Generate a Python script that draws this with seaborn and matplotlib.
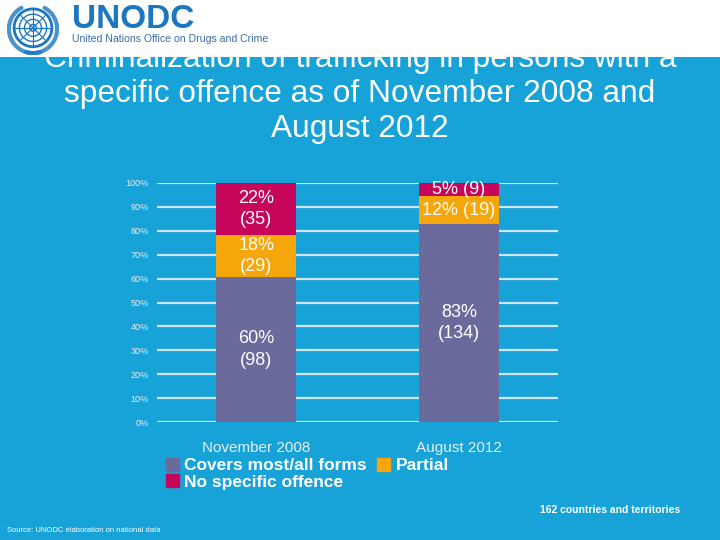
import numpy as np
import pandas as pd
import matplotlib
matplotlib.use("Agg")
import matplotlib.pyplot as plt
from matplotlib.patches import Rectangle, Patch, Circle
import seaborn as sns

# --- data
periods = ["November 2008", "August 2012"]
covers_n = [98, 134]
partial_n = [29, 19]
none_n = [35, 9]
covers_pct = [60, 83]
partial_pct = [18, 12]
none_pct = [22, 5]
total_n = 162
y_ticks = [0, 10, 20, 30, 40, 50, 60, 70, 80, 90, 100]

BG = "#17a3d7"
C_COVERS = "#6b6a9d"
C_PARTIAL = "#f5a60a"
C_NONE = "#c5065a"
LOGO = "#1b77c0"

sns.set_theme(style="white")
plt.rcParams["font.family"] = ["Liberation Sans", "DejaVu Sans"]

df = pd.DataFrame({
    "period": periods,
    "covers": np.array(covers_n) / total_n * 100,
    "partial": np.array(partial_n) / total_n * 100,
    "none": np.array(none_n) / total_n * 100,
})
df["lvl2"] = df["covers"] + df["partial"]
df["lvl3"] = df["lvl2"] + df["none"]

fig = plt.figure(figsize=(7.2, 5.4), dpi=100, facecolor=BG)

# --- title (first line sits partly under the white header band)
title_lines = ["Criminalization of trafficking in persons with a",
               "specific offence as of November 2008 and",
               "August 2012"]
for i, line in enumerate(title_lines):
    fig.text(0.5, 1 - (59 + 35 * i) / 540, line, ha="center", va="center",
             color="white", fontsize=22.8, zorder=1)

# white header band with logo
fig.patches.append(Rectangle((0, 1 - 57 / 540), 1, 57 / 540, transform=fig.transFigure,
                             facecolor="white", edgecolor="none", zorder=2))
lax = fig.add_axes([5 / 720, 1 - 55 / 540, 56 / 720, 52 / 540], zorder=3)
lax.set_xlim(-1.1, 1.1)
lax.set_ylim(-1.1, 1.1)
lax.set_aspect("equal")
lax.axis("off")
for r, lw in [(1.0, 2.0), (0.72, 1.0), (0.45, 1.0), (0.18, 1.0)]:
    lax.add_patch(Circle((0, 0.05), r * 0.8, fill=False, ec=LOGO, lw=lw))
for a in np.linspace(0, np.pi, 5):
    lax.plot([0.8 * np.cos(a), -0.8 * np.cos(a)], [0.05 + 0.8 * np.sin(a), 0.05 - 0.8 * np.sin(a)],
             color=LOGO, lw=0.8)
for s in (-1, 1):
    t = np.linspace(-np.pi / 2 - 0.3, np.pi / 2 - 0.5, 30)
    lax.plot(s * 1.02 * np.cos(t), 1.02 * np.sin(t), color=LOGO, lw=3, alpha=0.8)
fig.text(72 / 720, 1 - 19 / 540, "UNODC", ha="left", va="center", color=LOGO,
         fontsize=24, fontweight="bold", zorder=3)
fig.text(72 / 720, 1 - 39 / 540, "United Nations Office on Drugs and Crime", ha="left",
         va="center", color="#3a6ea8", fontsize=7.6, zorder=3)

# --- stacked bars (drawn as overlapping cumulative totals)
ax = fig.add_axes([157 / 720, 1 - 422 / 540, 401 / 720, 239 / 540])
ax.set_facecolor("none")
bw = 0.396
sns.barplot(data=df, x="period", y="lvl3", color=C_NONE, width=bw, saturation=1,
            linewidth=0, ax=ax, zorder=3)
sns.barplot(data=df, x="period", y="lvl2", color=C_PARTIAL, width=bw, saturation=1,
            linewidth=0, ax=ax, zorder=3)
sns.barplot(data=df, x="period", y="covers", color=C_COVERS, width=bw, saturation=1,
            linewidth=0, ax=ax, zorder=3)

ax.set_xlim(-0.49, 1.49)
ax.set_ylim(0, 100)
ax.set_yticks(y_ticks)
ax.set_yticklabels([f"{t}%" for t in y_ticks], color="#e3eef6", fontsize=6.5)
ax.yaxis.grid(True, color="#cfe6f2", lw=1.6, zorder=0)
ax.set_axisbelow(True)
for sp in ax.spines.values():
    sp.set_visible(False)
ax.tick_params(axis="y", length=0, pad=6)
ax.tick_params(axis="x", length=0, pad=14, labelsize=11, labelcolor="#e6f0f6")
ax.set_xlabel("")
ax.set_ylabel("")

# --- segment labels
lbl = dict(ha="center", va="center", color="white", fontsize=13, linespacing=1.35, zorder=5)
for i in range(len(periods)):
    segs = [(0, df["covers"][i], covers_pct[i], covers_n[i]),
            (df["covers"][i], df["lvl2"][i], partial_pct[i], partial_n[i]),
            (df["lvl2"][i], df["lvl3"][i], none_pct[i], none_n[i])]
    for lo, hi, p, n in segs:
        sep = "\n" if hi - lo > 15 else " "
        ax.text(i, (lo + hi) / 2, f"{p}%{sep}({n})", **lbl)

# --- legend
handles = [Patch(color=C_COVERS, label="Covers most/all forms"),
           Patch(color=C_NONE, label="No specific offence"),
           Patch(color=C_PARTIAL, label="Partial")]
leg = fig.legend(handles=handles, ncol=2, loc="upper left", bbox_to_anchor=(166 / 720, 1 - 458 / 540),
                 frameon=False, handlelength=0.75, handleheight=0.75, handletextpad=0.3,
                 columnspacing=0.6, labelspacing=0.05, borderpad=0, borderaxespad=0,
                 prop={"size": 12.5, "weight": "bold"})
for t in leg.get_texts():
    t.set_color("white")

fig.text(680 / 720, 1 - 510 / 540, "162 countries and territories", ha="right", va="center",
         color="white", fontsize=7.5, fontweight="bold")
fig.text(7 / 720, 1 - 531 / 540, "Source: UNODC elaboration on national data", ha="left",
         va="center", color="white", fontsize=5.5)

fig.savefig("out.png", dpi=100, facecolor=BG)
